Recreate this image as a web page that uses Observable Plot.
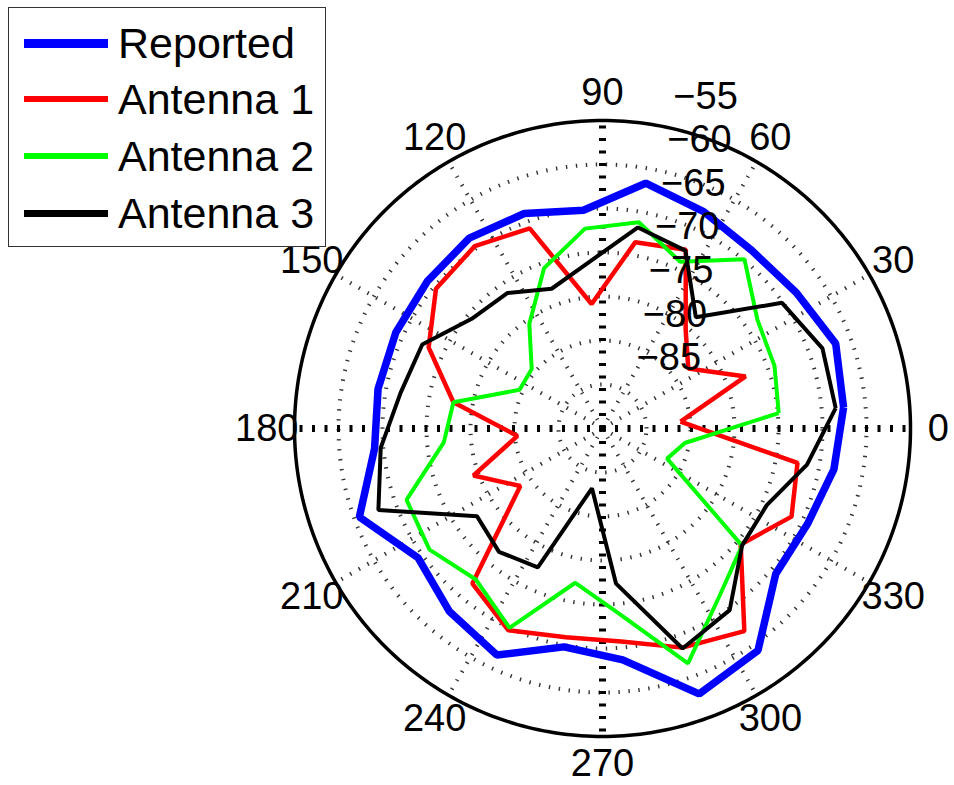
<!DOCTYPE html>
<html>
<head>
<meta charset="utf-8">
<script src="https://cdn.jsdelivr.net/npm/d3@7"></script>
<script src="https://cdn.jsdelivr.net/npm/@observablehq/plot@0.6"></script>
<style>
  html, body { margin: 0; padding: 0; background: #fff; overflow: hidden; }
  #wrap { position: relative; width: 954px; height: 785px; font-family: "Liberation Sans", Arial, sans-serif; }
  #legend { position: absolute; left: 8px; top: 7px; width: 316px; height: 238px; border: 1.5px solid #333; background: #fff; }
  #legend .sw { position: absolute; left: 15px; width: 84px; }
  #legend .lab { position: absolute; left: 109px; font-size: 43px; line-height: 50px; white-space: nowrap; color: #000; }
</style>
</head>
<body>
<div id="wrap"><div id="chart"></div><div id="legend"></div></div>
<script>
// ---- data (angles in degrees, values in dB) ----
const angles = [5,20,35,50,65,80,95,110,125,140,155,170,185,200,215,230,245,260,275,290,305,320,335,350];
const reported = [-62.5,-61.8,-63.1,-63.6,-62.8,-61.7,-65.1,-64.0,-63.6,-64.0,-64.1,-64.1,-64.0,-60.6,-64.4,-62.9,-61.6,-64.8,-63.6,-57.9,-59.2,-64.3,-64.3,-63.3];
const antenna1 = [-81.1,-72.7,-78.1,-75.3,-67.6,-68.5,-75.8,-65.8,-64.7,-65.3,-68.2,-72.8,-80.3,-74.4,-78.6,-67.0,-64.7,-65.9,-65.7,-63.5,-61.9,-69.5,-66.3,-67.5];
const antenna2 = [-69.9,-69.2,-68.5,-64.9,-69.1,-66.2,-67.2,-70.6,-75.5,-79.5,-79.6,-72.8,-71.9,-66.3,-66.0,-67.6,-65.0,-72.2,-68.9,-61.6,-66.8,-69.3,-81.9,-80.5];
const antenna3 = [-63.4,-63.4,-65.1,-73.5,-67.7,-66.8,-71.1,-73.1,-71.2,-70.6,-67.4,-66.7,-64.7,-62.9,-72.6,-71.7,-72.6,-83.1,-72.3,-63.4,-64.8,-69.3,-69.4,-66.4];
const seriesNames = ["Reported","Antenna 1","Antenna 2","Antenna 3"];
const seriesColors = ["#0000ff","#ff0000","#00ff00","#000000"];
const seriesWidths = [7.5, 4.5, 4, 4];
const legendWidths = [9, 6, 6, 7];
const rMin = -90;          // value at the centre
const rMax = -55;          // value on the outer circle
const gridValues = [-85,-80,-75,-70,-65,-60];
const radialLabels = [-85,-80,-75,-70,-65,-60,-55];
const angleTicks = [0,30,60,90,120,150,180,210,240,270,300,330];
const mainAxes = [0,90,180,270];
const radialLabelAngle = 82;

// ---- helpers ----
const rad = d => d * Math.PI / 180;
const rOf = v => v - rMin;
const px = (a, v) => rOf(v) * Math.cos(rad(a));
const py = (a, v) => rOf(v) * Math.sin(rad(a));
const span = rMax - rMin;
const labelValue = rMax + 0.09 * span;

function closed(values, name) {
  const pts = angles.map((a, i) => ({x: px(a, values[i]), y: py(a, values[i]), name}));
  pts.push(pts[0]);
  return pts;
}
function circle(v) {
  return d3.range(0, 361, 1).map(a => ({x: px(a, v), y: py(a, v), v}));
}
const gridCircles = gridValues.flatMap(circle);
const outerCircle = circle(rMax);
const spokes = angleTicks.map(a => ({a, x1: 0, y1: 0, x2: px(a, rMax), y2: py(a, rMax), main: mainAxes.includes(a)}));
const allSeries = [reported, antenna1, antenna2, antenna3];

const font = "'Liberation Sans', Arial, Helvetica, sans-serif";

const plot = Plot.plot({
  width: 954,
  height: 785,
  x: {domain: [-span, span], range: [294, 910], axis: null},
  y: {domain: [-span, span], range: [736, 120], axis: null},
  style: {fontFamily: font, background: "white", color: "black"},
  marks: [
    Plot.line(gridCircles, {x: "x", y: "y", z: "v", stroke: "#333", strokeWidth: 4, strokeDasharray: "1.4,8.6", strokeLinecap: "butt"}),
    Plot.link(spokes.filter(d => !d.main), {x1: "x1", y1: "y1", x2: "x2", y2: "y2", stroke: "#333", strokeWidth: 4, strokeDasharray: "1.4,8.6", strokeLinecap: "butt"}),
    Plot.link(spokes.filter(d => d.main), {x1: "x1", y1: "y1", x2: "x2", y2: "y2", stroke: "#000", strokeWidth: 7, strokeDasharray: "3,9.5", strokeLinecap: "butt"}),
    Plot.line(outerCircle, {x: "x", y: "y", stroke: "#000", strokeWidth: 3.5}),
    ...allSeries.map((vals, i) => Plot.line(closed(vals, seriesNames[i]), {x: "x", y: "y", stroke: seriesColors[i], strokeWidth: seriesWidths[i], strokeLinejoin: "miter", strokeLinecap: "butt"})),
    Plot.text(angleTicks, {x: a => px(a, labelValue), y: a => py(a, labelValue), text: a => String(a), fontSize: 38, textAnchor: "middle", lineAnchor: "middle", fill: "#000"}),
    Plot.text(radialLabels, {x: v => px(radialLabelAngle, v), y: v => py(radialLabelAngle, v), text: v => "\u2212" + Math.abs(v), fontSize: 38, textAnchor: "start", lineAnchor: "middle", dx: 28, dy: -27, fill: "#000"})
  ]
});
document.getElementById("chart").appendChild(plot);

// ---- legend ----
const legend = document.getElementById("legend");
const rowCenters = [35, 91, 148, 205];
seriesNames.forEach((name, i) => {
  const sw = document.createElement("div");
  sw.className = "sw";
  sw.style.top = (rowCenters[i] - legendWidths[i] / 2) + "px";
  sw.style.height = legendWidths[i] + "px";
  sw.style.background = seriesColors[i];
  legend.appendChild(sw);
  const lab = document.createElement("div");
  lab.className = "lab";
  lab.style.top = (rowCenters[i] - 25) + "px";
  lab.textContent = name;
  legend.appendChild(lab);
});
</script>
</body>
</html>
